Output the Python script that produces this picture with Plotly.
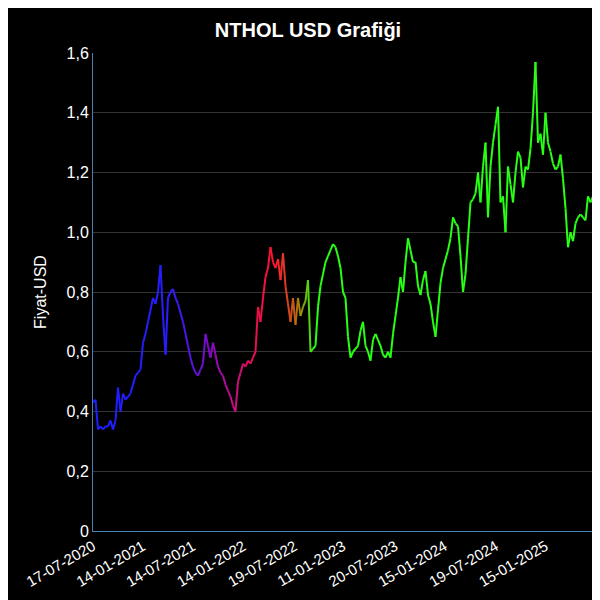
import pandas as pd
import plotly.graph_objects as go

# price trace at evenly spaced times
prices = [0.43, 0.44, 0.34, 0.35, 0.34, 0.35, 0.35, 0.37, 0.34, 0.37, 0.48, 0.40, 0.46,
          0.44, 0.45, 0.46, 0.49, 0.52, 0.53, 0.54, 0.63, 0.66, 0.70, 0.74, 0.78, 0.76,
          0.80, 0.89, 0.72, 0.59, 0.78, 0.80, 0.81, 0.78, 0.76, 0.73, 0.70, 0.66, 0.62,
          0.58, 0.55, 0.53, 0.52, 0.54, 0.56, 0.66, 0.62, 0.58, 0.63, 0.59, 0.55, 0.53,
          0.52, 0.49, 0.47, 0.45, 0.42, 0.40, 0.50, 0.53, 0.56, 0.55, 0.57, 0.56, 0.58,
          0.60, 0.75, 0.70, 0.78, 0.85, 0.88, 0.95, 0.90, 0.88, 0.91, 0.84, 0.93, 0.82,
          0.76, 0.70, 0.78, 0.69, 0.78, 0.72, 0.75, 0.77, 0.84, 0.60, 0.61, 0.62, 0.75,
          0.82, 0.86, 0.90, 0.92, 0.94, 0.96, 0.95, 0.92, 0.88, 0.80, 0.78, 0.65, 0.58,
          0.60, 0.61, 0.62, 0.67, 0.70, 0.62, 0.60, 0.57, 0.64, 0.66, 0.64, 0.62, 0.59,
          0.58, 0.60, 0.58, 0.66, 0.72, 0.78, 0.85, 0.80, 0.90, 0.98, 0.94, 0.90, 0.90,
          0.82, 0.79, 0.84, 0.87, 0.79, 0.76, 0.70, 0.65, 0.74, 0.83, 0.88, 0.91, 0.94,
          0.98, 1.05, 1.03, 1.02, 0.92, 0.80, 0.86, 0.98, 1.10, 1.11, 1.13, 1.20, 1.10,
          1.22, 1.30, 1.05, 1.22, 1.30, 1.36, 1.42, 1.10, 1.12, 1.00, 1.22, 1.16, 1.10,
          1.20, 1.27, 1.25, 1.15, 1.22, 1.21, 1.28, 1.40, 1.57, 1.30, 1.33, 1.26, 1.40,
          1.30, 1.27, 1.23, 1.21, 1.22, 1.26, 1.18, 1.08, 0.95, 1.00, 0.97, 1.03, 1.05,
          1.06, 1.05, 1.04, 1.12, 1.10, 1.12]

start_date = "2020-07-17"
end_date = "2025-07-07"

tick_dates = ["2020-07-17", "2021-01-14", "2021-07-14", "2022-01-14", "2022-07-19",
              "2023-01-11", "2023-07-20", "2024-01-15", "2024-07-19", "2025-01-15"]
tick_text = ["17-07-2020", "14-01-2021", "14-07-2021", "14-01-2022", "19-07-2022",
             "11-01-2023", "20-07-2023", "15-01-2024", "19-07-2024", "15-01-2025"]

y_ticks = [0, 0.2, 0.4, 0.6, 0.8, 1.0, 1.2, 1.4, 1.6]
y_text = ["0", "0,2", "0,4", "0,6", "0,8", "1,0", "1,2", "1,4", "1,6"]

# colour stops along the series (fraction of length -> rgb)
color_stops = [(0.00, (30, 30, 255)), (0.15, (40, 30, 255)), (0.23, (128, 10, 200)),
               (0.28, (200, 15, 130)), (0.32, (230, 15, 80)), (0.36, (255, 20, 50)),
               (0.40, (200, 90, 20)), (0.42, (130, 170, 10)), (0.44, (40, 255, 20)),
               (1.00, (40, 255, 20))]


def color_at(f):
    for (f0, c0), (f1, c1) in zip(color_stops, color_stops[1:]):
        if f <= f1:
            t = (f - f0) / (f1 - f0) if f1 > f0 else 0
            r, g, b = [round(a + (b_ - a) * t) for a, b_ in zip(c0, c1)]
            return f"rgb({r},{g},{b})"
    return "rgb(40,255,20)"


dates = pd.date_range(start_date, end_date, periods=len(prices))
n = len(prices)

fig = go.Figure()
for i in range(n - 1):
    fig.add_trace(go.Scatter(x=dates[i:i + 2], y=prices[i:i + 2], mode="lines",
                             line=dict(color=color_at(i / (n - 1)), width=2),
                             showlegend=False, hoverinfo="skip"))

fig.update_layout(
    width=600, height=600,
    paper_bgcolor="black", plot_bgcolor="black",
    margin=dict(l=85, r=15, t=45, b=77),
    title=dict(text="<b>NTHOL USD Grafiği</b>", x=0.5, y=0.975,
               font=dict(size=20, color="white", family="Arial")),
    font=dict(family="Arial", color="white", size=15),
)
fig.update_xaxes(range=[dates[0], dates[-1]], tickvals=pd.to_datetime(tick_dates),
                 ticktext=tick_text, tickangle=-30, showgrid=False, automargin=False,
                 showline=True, linecolor="#4682b4", linewidth=1, zeroline=False,
                 tickfont=dict(size=15))
fig.update_yaxes(range=[0, 1.6], tickvals=y_ticks, ticktext=y_text, automargin=False,
                 title=dict(text="Fiyat-USD", font=dict(size=16)),
                 gridcolor="#333333", showline=True, linecolor="#4682b4",
                 linewidth=1, zeroline=False, tickfont=dict(size=16))

fig.write_html("out.html")
